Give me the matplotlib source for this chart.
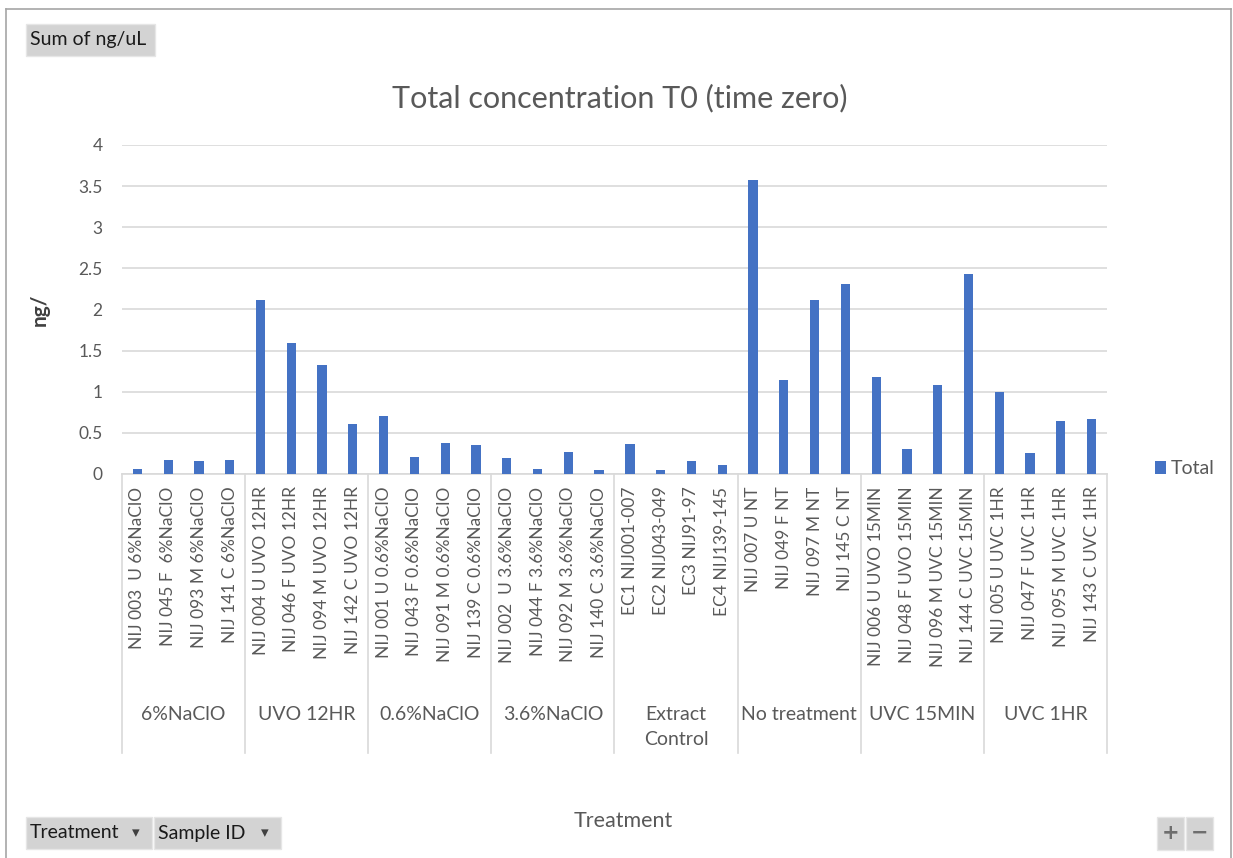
import matplotlib.pyplot as plt
from matplotlib.patches import Rectangle
from matplotlib.lines import Line2D
import matplotlib.transforms as mtransforms

plt.rcParams['font.family'] = ['Lato', 'DejaVu Sans']

groups = ['6%NaClO', 'UVO 12HR', '0.6%NaClO', '3.6%NaClO',
          'Extract\nControl', 'No treatment', 'UVC 15MIN', 'UVC 1HR']
samples = [
    'NIJ 003  U 6%NaClO', 'NIJ 045 F  6%NaClO', 'NIJ 093 M 6%NaClO', 'NIJ 141 C 6%NaClO',
    'NIJ 004 U UVO 12HR', 'NIJ 046 F UVO 12HR', 'NIJ 094 M UVO 12HR', 'NIJ 142 C UVO 12HR',
    'NIJ 001 U 0.6%NaClO', 'NIJ 043 F 0.6%NaClO', 'NIJ 091 M 0.6%NaClO', 'NIJ 139 C 0.6%NaClO',
    'NIJ 002  U 3.6%NaClO', 'NIJ 044 F 3.6%NaClO', 'NIJ 092 M 3.6%NaClO', 'NIJ 140 C 3.6%NaClO',
    'EC1 NIJ001-007', 'EC2 NIJ043-049', 'EC3 NIJ91-97', 'EC4 NIJ139-145',
    'NIJ 007 U NT', 'NIJ 049 F NT', 'NIJ 097 M NT', 'NIJ 145 C NT',
    'NIJ 006 U UVO 15MIN', 'NIJ 048 F UVO 15MIN', 'NIJ 096 M UVC 15MIN', 'NIJ 144 C UVC 15MIN',
    'NIJ 005 U UVC 1HR', 'NIJ 047 F UVC 1HR', 'NIJ 095 M UVC 1HR', 'NIJ 143 C UVC 1HR',
]
totals = [0.06, 0.17, 0.155, 0.17,
          2.12, 1.59, 1.32, 0.61,
          0.705, 0.21, 0.38, 0.35,
          0.195, 0.057, 0.27, 0.045,
          0.365, 0.045, 0.155, 0.113,
          3.57, 1.14, 2.11, 2.31,
          1.18, 0.30, 1.08, 2.43,
          1.0, 0.255, 0.65, 0.665]
per_group = 4

W, H = 1233, 858
fig = plt.figure(figsize=(W / 100, H / 100), dpi=100)


def fx(px):
    return px / W


def fy(py):
    return 1 - py / H


ax_left, ax_right, ax_top, ax_bottom = 122, 1107, 145, 474
ax = fig.add_axes([fx(ax_left), fy(ax_bottom), fx(ax_right - ax_left), (ax_bottom - ax_top) / H])

grey = '#595959'
x = list(range(len(totals)))
bars = ax.bar(x, totals, width=0.3, color='#4472C4', label='Total', zorder=3)

ax.set_xlim(-0.5, len(totals) - 0.5)
ax.set_ylim(0, 4)
ax.set_yticks([0, 0.5, 1, 1.5, 2, 2.5, 3, 3.5, 4])
ax.set_yticklabels(['0', '0.5', '1', '1.5', '2', '2.5', '3', '3.5', '4'])
ax.yaxis.grid(True, color='#d9d9d9', linewidth=1.2, zorder=0)
ax.tick_params(axis='y', length=0, pad=14, labelsize=12.5, labelcolor=grey)
ax.set_xticks(x)
ax.set_xticklabels(samples, rotation=90, va='top', ha='center')
ax.tick_params(axis='x', length=0, pad=9, labelsize=12.5, labelcolor=grey)
for s in ['top', 'right', 'left']:
    ax.spines[s].set_visible(False)
ax.spines['bottom'].set_color('#d9d9d9')
ax.spines['bottom'].set_linewidth(1.2)

# group dividers and labels
trans = mtransforms.blended_transform_factory(ax.transData, ax.transAxes)
line_bottom = -(753 - ax_bottom) / (ax_bottom - ax_top)
for i in range(len(groups) + 1):
    xb = i * per_group - 0.5
    ax.add_line(Line2D([xb, xb], [0, line_bottom], transform=trans,
                       color='#d9d9d9', linewidth=1.2, clip_on=False))
label_y = -(706 - ax_bottom) / (ax_bottom - ax_top)
for i, g in enumerate(groups):
    ax.text(i * per_group + 1.5, label_y, g, transform=trans, ha='center', va='top',
            fontsize=14, color=grey, linespacing=1.6)

fig.text(fx(40), fy(310), 'ng/', rotation=90, ha='center', va='center',
         fontsize=15, fontweight='bold', color='#404040')

fig.text(fx(620), fy(98), 'Total concentration T0 (time zero)', ha='center', va='center',
         fontsize=22, color=grey)
fig.text(fx(623), fy(821), 'Treatment', ha='center', va='center', fontsize=15.5, color=grey)

ax.legend(handles=[bars], loc='center left', bbox_to_anchor=(fx(1137), fy(469)),
          bbox_transform=fig.transFigure, frameon=False, fontsize=14,
          handlelength=0.6, handleheight=0.6, handletextpad=0.25, labelcolor=grey)

# outer frame
fig.add_artist(Line2D([fx(6), fx(6)], [fy(9), 0], color='#a6a6a6', linewidth=1.2))
fig.add_artist(Line2D([fx(6), fx(1231)], [fy(9), fy(9)], color='#a6a6a6', linewidth=1.2))
fig.add_artist(Line2D([fx(1231), fx(1231)], [fy(9), 0], color='#a6a6a6', linewidth=1.2))


def button(x0, y0, x1, y1, text, arrow=False):
    fig.add_artist(Rectangle((fx(x0), fy(y1)), fx(x1 - x0), (y1 - y0) / H,
                             facecolor='#d3d3d3', edgecolor='#e6e6e6', linewidth=1))
    fig.text(fx(x0 + 4), fy((y0 + y1) / 2), text, ha='left', va='center',
             fontsize=14, color='#1a1a1a')
    if arrow:
        fig.text(fx(x1 - 16), fy((y0 + y1) / 2), '\u25be', ha='center', va='center',
                 fontsize=11, color='#404040', family='DejaVu Sans')


button(26, 24, 155, 56, 'Sum of ng/uL')
button(26, 817, 152, 849, 'Treatment', arrow=True)
button(154, 817, 281, 849, 'Sample ID', arrow=True)
for x0, sym in [(1157, '+'), (1186, '\u2212')]:
    fig.add_artist(Rectangle((fx(x0), fy(850)), fx(27), 33 / H,
                             facecolor='#d3d3d3', edgecolor='#e6e6e6', linewidth=1))
    fig.text(fx(x0 + 13.5), fy(833), sym, ha='center', va='center', fontsize=15,
             fontweight='bold', color='#6e6e6e', family='DejaVu Sans')

fig.savefig('out.png', dpi=100)
